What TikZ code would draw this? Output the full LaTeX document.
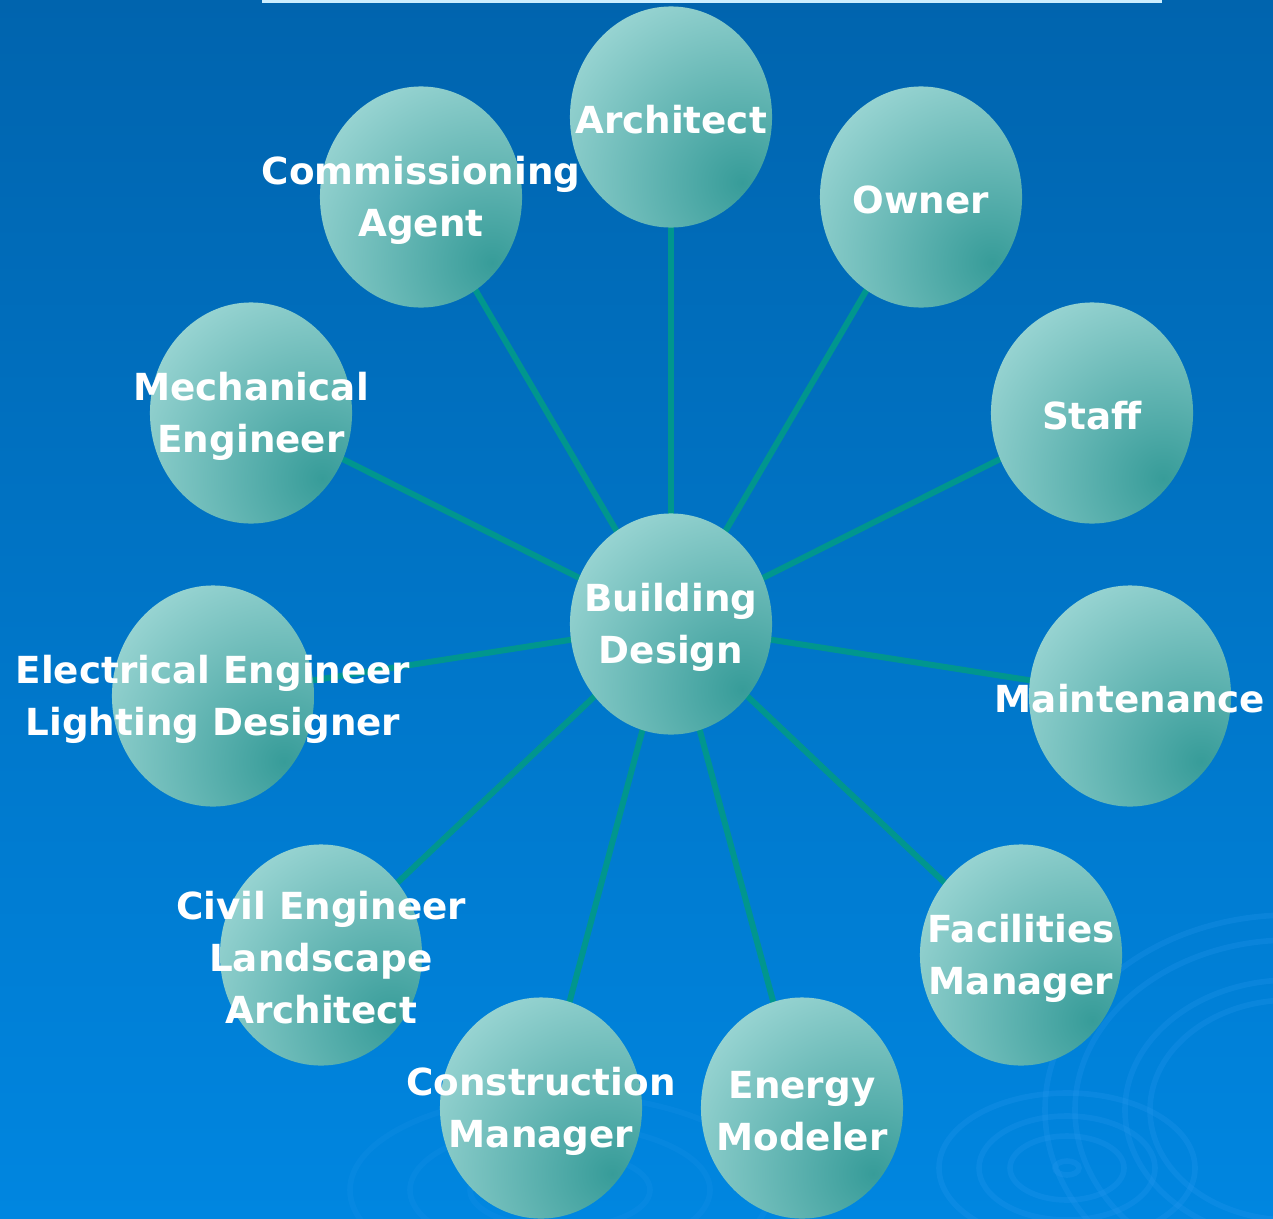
\documentclass[tikz,border=0pt]{standalone}
\usepackage{fontspec}
\setmainfont{DejaVu Sans}
\usetikzlibrary{shapes.geometric, positioning}

\definecolor{bgtop}{HTML}{0064AE}
\definecolor{bgbottom}{HTML}{0086E0}
\definecolor{spokecol}{HTML}{00968E}
\definecolor{bublight}{HTML}{9FD8D6}
\definecolor{bubdark}{HTML}{379C99}
\definecolor{topline}{HTML}{CCEEFF}
\definecolor{ripple}{HTML}{2A9AF0}

\pgfdeclarelayer{bg}
\pgfdeclarelayer{spokes}
\pgfsetlayers{bg,spokes,main}

\begin{document}
\begin{tikzpicture}[x=0.01cm, y=-0.01cm]
    % Style definitions
    \tikzset{bubble/.style={ellipse, minimum width=2.02cm, minimum height=2.21cm, inner sep=0pt,
        path picture={\shade[inner color=bubdark, outer color=bublight]
            ([xshift=-0.3cm, yshift=0.45cm]path picture bounding box.south east) circle (2.2cm);}}}
    \tikzset{caption/.style={text=white, align=center, inner sep=0pt, yshift=-0.03cm,
        font=\fontsize{10.6}{14.8}\selectfont\bfseries}}
    \tikzset{spoke/.style={draw=spokecol, line width=1.7pt}}
    \tikzset{ring/.style={draw=ripple, opacity=0.24, line width=1.6pt}}

    \useasboundingbox (0,0) rectangle (1273,1218);

    % Background
    \begin{pgfonlayer}{bg}
        \shade[top color=bgtop, bottom color=bgbottom] (0,0) rectangle (1273,1218);
        \fill[topline] (262,0) rectangle (1162,3);
        \begin{scope}
            \clip (0,0) rectangle (1273,1218);
            \foreach \rx/\ry in {12/7, 57/32, 88/52, 128/75}
                \draw[ring] (1067,1168) ellipse ({\rx*0.01cm} and {\ry*0.01cm});
            \foreach \rx/\ry in {140/110, 165/130, 215/170, 245/195}
                \draw[ring] (1290,1110) ellipse ({\rx*0.01cm} and {\ry*0.01cm});
            \foreach \rx/\ry in {40/15, 90/38, 150/65, 210/95}
                \draw[ring, opacity=0.15] (560,1190) ellipse ({\rx*0.01cm} and {\ry*0.01cm});
        \end{scope}
    \end{pgfonlayer}

    % Bubbles
    \node [bubble] (bd) at (671,624) {};
    \node [bubble] (arch) at (671,117) {};
    \node [bubble] (owner) at (921,197) {};
    \node [bubble] (staff) at (1092,413) {};
    \node [bubble] (maint) at (1130,696) {};
    \node [bubble] (fm) at (1021,955) {};
    \node [bubble] (energy) at (802,1108) {};
    \node [bubble] (cm) at (541,1108) {};
    \node [bubble] (civil) at (321,955) {};
    \node [bubble] (elec) at (213,696) {};
    \node [bubble] (mech) at (251,413) {};
    \node [bubble] (cx) at (421,197) {};

    % Labels
    \node [caption] at (bd) {Building\\Design};
    \node [caption] at (arch) {Architect};
    \node [caption] at (owner) {Owner};
    \node [caption] at (staff) {Staff};
    \node [caption] at (maint) {Maintenance};
    \node [caption] at (fm) {Facilities\\Manager};
    \node [caption] at (energy) {Energy\\Modeler};
    \node [caption] at (cm) {Construction\\Manager};
    \node [caption] at (civil) {Civil Engineer\\Landscape\\Architect};
    \node [caption] at (elec) {Electrical Engineer\\Lighting Designer};
    \node [caption] at (mech) {Mechanical\\Engineer};
    \node [caption] at (cx) {Commissioning\\Agent};

    % Spokes
    \begin{pgfonlayer}{spokes}
        \foreach \n in {arch, owner, staff, maint, fm, energy, cm, civil, elec, mech, cx}
            \draw [spoke] (bd.center) -- (\n.center);
    \end{pgfonlayer}
\end{tikzpicture}
\end{document}
